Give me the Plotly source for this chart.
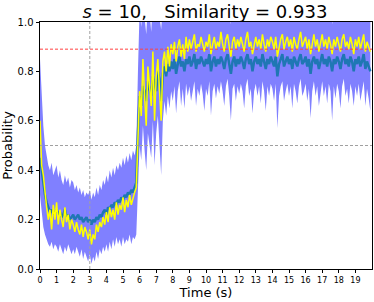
import numpy as np
import plotly.graph_objects as go

# sample times (s), 0.1 s step
time_s = np.round(np.arange(200) * 0.1, 1)

mean_prob = [
    0.45, 0.40, 0.33, 0.30, 0.27, 0.25, 0.23, 0.24, 0.22, 0.23,
    0.24, 0.22, 0.23, 0.21, 0.22, 0.24, 0.21, 0.22, 0.20, 0.21,
    0.22, 0.20, 0.21, 0.22, 0.20, 0.21, 0.19, 0.20, 0.21, 0.19,
    0.20, 0.18, 0.20, 0.19, 0.21, 0.20, 0.22, 0.21, 0.23, 0.24,
    0.22, 0.25, 0.24, 0.26, 0.25, 0.27, 0.26, 0.28, 0.27, 0.29,
    0.28, 0.30, 0.29, 0.31, 0.30, 0.32, 0.31, 0.33, 0.35, 0.55,
    0.70, 0.66, 0.74, 0.72, 0.68, 0.76, 0.73, 0.70, 0.78, 0.75,
    0.72, 0.80, 0.77, 0.68, 0.79, 0.82, 0.78, 0.83, 0.80, 0.84,
    0.81, 0.85, 0.79, 0.83, 0.86, 0.82, 0.84, 0.80, 0.85, 0.83,
    0.86, 0.82, 0.84, 0.87, 0.81, 0.85, 0.83, 0.86, 0.84, 0.82,
    0.85, 0.83, 0.87, 0.80, 0.84, 0.86, 0.82, 0.85, 0.83, 0.86,
    0.84, 0.81, 0.85, 0.87, 0.83, 0.79, 0.84, 0.86, 0.82, 0.85,
    0.83, 0.86, 0.84, 0.81, 0.85, 0.87, 0.83, 0.85, 0.80, 0.84,
    0.86, 0.83, 0.85, 0.82, 0.87, 0.84, 0.81, 0.85, 0.83, 0.86,
    0.84, 0.82, 0.86, 0.78, 0.83, 0.85, 0.87, 0.82, 0.84, 0.86,
    0.83, 0.85, 0.81, 0.86, 0.84, 0.82, 0.85, 0.87, 0.83, 0.84,
    0.86, 0.82, 0.85, 0.79, 0.84, 0.86, 0.83, 0.85, 0.81, 0.84,
    0.87, 0.83, 0.85, 0.82, 0.86, 0.84, 0.80, 0.85, 0.83, 0.86,
    0.84, 0.81, 0.85, 0.87, 0.83, 0.85, 0.82, 0.86, 0.84, 0.80,
    0.85, 0.83, 0.86, 0.82, 0.84, 0.87, 0.81, 0.84, 0.82, 0.80,
]

yellow_prob = [
    0.60, 0.42, 0.38, 0.30, 0.25, 0.20, 0.24, 0.16, 0.26, 0.20,
    0.27, 0.18, 0.24, 0.20, 0.17, 0.25, 0.19, 0.22, 0.16, 0.20,
    0.18, 0.15, 0.19, 0.16, 0.14, 0.18, 0.13, 0.17, 0.15, 0.12,
    0.16, 0.10, 0.14, 0.12, 0.18, 0.15, 0.19, 0.17, 0.21, 0.18,
    0.23, 0.19, 0.25, 0.21, 0.24, 0.20, 0.27, 0.22, 0.26, 0.24,
    0.29, 0.23, 0.28, 0.25, 0.30, 0.26, 0.29, 0.31, 0.33, 0.50,
    0.72, 0.62, 0.85, 0.70, 0.58, 0.82, 0.75, 0.66, 0.88, 0.60,
    0.78, 0.85, 0.72, 0.60, 0.84, 0.88, 0.80, 0.90, 0.82, 0.91,
    0.87, 0.92, 0.84, 0.90, 0.93, 0.86, 0.91, 0.85, 0.94, 0.88,
    0.93, 0.89, 0.92, 0.95, 0.88, 0.91, 0.90, 0.94, 0.91, 0.88,
    0.92, 0.90, 0.95, 0.87, 0.91, 0.94, 0.89, 0.92, 0.90, 0.96,
    0.91, 0.88, 0.93, 0.95, 0.90, 0.86, 0.92, 0.94, 0.89, 0.93,
    0.90, 0.94, 0.91, 0.88, 0.93, 0.96, 0.90, 0.92, 0.87, 0.91,
    0.94, 0.90, 0.93, 0.89, 0.95, 0.91, 0.88, 0.93, 0.90, 0.94,
    0.92, 0.89, 0.94, 0.86, 0.90, 0.93, 0.95, 0.89, 0.92, 0.94,
    0.90, 0.93, 0.88, 0.94, 0.91, 0.89, 0.93, 0.96, 0.90, 0.92,
    0.94, 0.89, 0.93, 0.87, 0.91, 0.95, 0.90, 0.93, 0.88, 0.92,
    0.95, 0.90, 0.93, 0.89, 0.94, 0.91, 0.87, 0.93, 0.90, 0.94,
    0.91, 0.88, 0.93, 0.95, 0.90, 0.92, 0.89, 0.94, 0.91, 0.87,
    0.93, 0.90, 0.94, 0.89, 0.92, 0.95, 0.88, 0.92, 0.90, 0.88,
]

band_lower = [
    0.30, 0.22, 0.17, 0.14, 0.12, 0.10, 0.09, 0.11, 0.08, 0.10,
    0.09, 0.07, 0.10, 0.08, 0.06, 0.09, 0.07, 0.10, 0.08, 0.06,
    0.08, 0.06, 0.09, 0.07, 0.05, 0.08, 0.04, 0.07, 0.05, 0.03,
    0.06, 0.02, 0.05, 0.03, 0.07, 0.04, 0.08, 0.06, 0.09, 0.07,
    0.10, 0.07, 0.11, 0.08, 0.12, 0.09, 0.13, 0.10, 0.12, 0.09,
    0.13, 0.10, 0.12, 0.11, 0.14, 0.10, 0.13, 0.12, 0.14, 0.35,
    0.50, 0.44, 0.58, 0.48, 0.40, 0.55, 0.50, 0.45, 0.60, 0.42,
    0.55, 0.62, 0.50, 0.38, 0.60, 0.68, 0.62, 0.70, 0.65, 0.72,
    0.68, 0.74, 0.63, 0.72, 0.76, 0.66, 0.73, 0.65, 0.75, 0.70,
    0.74, 0.68, 0.72, 0.76, 0.66, 0.73, 0.70, 0.75, 0.71, 0.64,
    0.73, 0.70, 0.76, 0.62, 0.72, 0.75, 0.69, 0.74, 0.71, 0.76,
    0.72, 0.66, 0.74, 0.77, 0.70, 0.60, 0.73, 0.75, 0.68, 0.74,
    0.71, 0.75, 0.72, 0.65, 0.74, 0.77, 0.70, 0.73, 0.63, 0.72,
    0.75, 0.70, 0.74, 0.67, 0.76, 0.72, 0.64, 0.74, 0.70, 0.75,
    0.73, 0.68, 0.75, 0.57, 0.70, 0.74, 0.76, 0.68, 0.72, 0.75,
    0.70, 0.74, 0.65, 0.75, 0.72, 0.67, 0.74, 0.77, 0.70, 0.72,
    0.75, 0.68, 0.73, 0.61, 0.72, 0.76, 0.70, 0.74, 0.66, 0.72,
    0.76, 0.70, 0.74, 0.67, 0.75, 0.72, 0.60, 0.74, 0.69, 0.75,
    0.72, 0.65, 0.74, 0.77, 0.70, 0.73, 0.67, 0.75, 0.72, 0.66,
    0.74, 0.70, 0.75, 0.68, 0.72, 0.76, 0.66, 0.73, 0.69, 0.64,
]

band_upper = [
    0.85, 0.70, 0.58, 0.50, 0.45, 0.42, 0.40, 0.43, 0.38, 0.40,
    0.42, 0.37, 0.40, 0.36, 0.34, 0.38, 0.35, 0.37, 0.33, 0.36,
    0.35, 0.32, 0.34, 0.31, 0.33, 0.30, 0.32, 0.29, 0.31, 0.30,
    0.32, 0.28, 0.31, 0.29, 0.33, 0.30, 0.34, 0.32, 0.36, 0.34,
    0.38, 0.35, 0.40, 0.37, 0.41, 0.38, 0.42, 0.40, 0.43, 0.41,
    0.45, 0.42, 0.46, 0.43, 0.47, 0.44, 0.48, 0.46, 0.50, 0.80,
    1.05, 0.98, 1.10, 1.02, 0.95, 1.08, 1.04, 0.96, 1.10, 1.00,
    1.06, 1.10, 1.02, 0.97, 1.08, 1.12, 1.06, 1.10, 1.05, 1.12,
    1.08, 1.12, 1.04, 1.10, 1.12, 1.06, 1.10, 1.05, 1.12, 1.08,
    1.10, 1.06, 1.09, 1.12, 1.05, 1.09, 1.07, 1.11, 1.08, 1.04,
    1.09, 1.07, 1.12, 1.03, 1.08, 1.11, 1.06, 1.09, 1.07, 1.12,
    1.08, 1.05, 1.10, 1.12, 1.07, 0.99, 1.09, 1.11, 1.06, 1.10,
    1.07, 1.11, 1.08, 1.05, 1.10, 1.12, 1.07, 1.09, 1.04, 1.08,
    1.11, 1.07, 1.10, 1.06, 1.12, 1.08, 1.05, 1.10, 1.07, 1.11,
    1.09, 1.06, 1.11, 1.02, 1.07, 1.10, 1.12, 1.06, 1.09, 1.11,
    1.07, 1.10, 1.05, 1.11, 1.08, 1.06, 1.10, 1.12, 1.07, 1.09,
    1.11, 1.06, 1.10, 1.03, 1.08, 1.12, 1.07, 1.10, 1.05, 1.09,
    1.12, 1.07, 1.10, 1.06, 1.11, 1.08, 0.99, 1.10, 1.07, 1.11,
    1.08, 1.05, 1.10, 1.12, 1.07, 1.09, 1.06, 1.11, 1.08, 1.04,
    1.10, 1.07, 1.11, 1.06, 1.09, 1.12, 1.05, 1.09, 1.07, 1.04,
]

x_ticks = list(range(20))
y_ticks = [0.0, 0.2, 0.4, 0.6, 0.8, 1.0]
threshold_red = 0.89
threshold_half = 0.5
marker_time = 3

title_text = "<i>s</i> = 10,\u00a0\u00a0 Similarity = 0.933"

fig = go.Figure()
fig.add_trace(go.Scatter(x=time_s, y=band_lower, mode="lines",
                         line=dict(width=0, color="#8080ff"), showlegend=False,
                         hoverinfo="skip"))
fig.add_trace(go.Scatter(x=time_s, y=band_upper, mode="lines", fill="tonexty",
                         fillcolor="#8080ff", line=dict(width=0, color="#8080ff"),
                         showlegend=False, hoverinfo="skip"))
fig.add_trace(go.Scatter(x=time_s, y=mean_prob, mode="lines",
                         line=dict(width=2.5, color="#1f77b4"), showlegend=False))
fig.add_trace(go.Scatter(x=time_s, y=yellow_prob, mode="lines",
                         line=dict(width=1.5, color="#ffff00"), showlegend=False))

fig.add_shape(type="line", xref="paper", x0=0, x1=1, yref="y",
              y0=threshold_red, y1=threshold_red,
              line=dict(color="#ff4040", width=1, dash="3px,2px"), layer="above")
fig.add_shape(type="line", xref="paper", x0=0, x1=1, yref="y",
              y0=threshold_half, y1=threshold_half,
              line=dict(color="#a0a0a0", width=1, dash="3px,2px"), layer="above")
fig.add_shape(type="line", yref="paper", y0=0, y1=1, xref="x",
              x0=marker_time, x1=marker_time,
              line=dict(color="#a0a0a0", width=1, dash="3px,2px"), layer="above")

fig.update_layout(
    width=374, height=302,
    margin=dict(l=40, r=2, t=22, b=33, autoexpand=False),
    paper_bgcolor="white", plot_bgcolor="white",
    font=dict(family="DejaVu Sans", color="black"),
    title=dict(text=title_text, x=0.548, xref="container", xanchor="center",
               y=0.962, yref="container", yanchor="middle", automargin=False,
               font=dict(size=18, family="DejaVu Sans", color="black")),
    showlegend=False,
)
fig.update_xaxes(range=[0, 20], tickvals=x_ticks, ticks="outside", ticklen=3,
                 tickwidth=1, tickcolor="black", tickfont=dict(size=8),
                 showgrid=False, zeroline=False, showline=True, linecolor="black",
                 linewidth=1, mirror=True, automargin=False,
                 title=dict(text="Time (s)", font=dict(size=13), standoff=2))
fig.update_yaxes(range=[0, 1], tickvals=y_ticks, tickformat=".1f", ticks="outside",
                 ticklen=3.5, tickwidth=1, tickcolor="black", tickfont=dict(size=10),
                 showgrid=False, zeroline=False, showline=True, linecolor="black",
                 linewidth=1, mirror=True, automargin=False,
                 title=dict(text="Probability", font=dict(size=13), standoff=2))

fig.write_html("out.html", config={"displayModeBar": False},
               post_script="document.body.style.margin='0';document.body.style.overflow='hidden';")
